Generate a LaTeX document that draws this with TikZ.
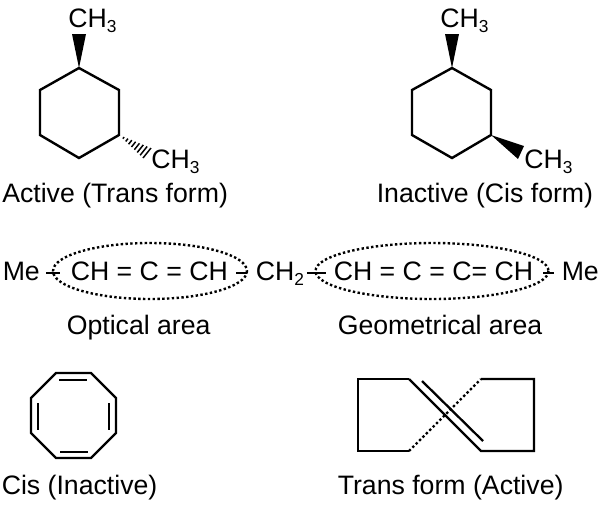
\documentclass[tikz,border=0pt]{standalone}
\usepackage{fontspec}
\setmainfont{Liberation Sans}
\usetikzlibrary{calc}
\newcommand{\subnum}[1]{\raisebox{-4.2pt}{\fontsize{13}{13}\selectfont #1}}
\tikzset{
  lbl/.style={anchor=base west, inner sep=0pt, font=\fontsize{20}{24}\selectfont},
  grp/.style={lbl, text height=10.5pt, text depth=0pt},
  bond/.style={line width=1.8pt, line join=miter},
  inner bond/.style={line width=1.7pt},
  dot bond/.style={line width=1.8pt, dash pattern=on 1.8pt off 1.8pt},
  area/.style={line width=1.8pt, dash pattern=on 1.8pt off 1.8pt},
  single/.style={line width=1.5pt}
}
\begin{document}
\begin{tikzpicture}[x=0.75pt, y=-0.75pt]
    \useasboundingbox (0,0) rectangle (605,508);

    % Active ring
    \coordinate (a1) at (79,68);
    \coordinate (a2) at (119,90);
    \coordinate (a3) at (119,135);
    \coordinate (a4) at (79,158);
    \coordinate (a5) at (40,135);
    \coordinate (a6) at (40,90);
    \draw[bond] (a1) -- (a2) -- (a3) -- (a4) -- (a5) -- (a6) -- cycle;
    \fill (a1) -- (72,34) -- (86,34) -- cycle; % Wedge up
    \coordinate (hashL) at (143,158);
    \coordinate (hashR) at (151,148);
    \foreach \t in {0.16,0.28,0.40,0.52,0.64,0.76,0.88,1} % Hashed wedge
        \draw[line width=1.1pt] ($(a3)!\t!(hashL)$) -- ($(a3)!\t!(hashR)$);
    \node[lbl] (CHa) at (68,27) {CH\subnum{3}};
    \node[lbl] (CHb) at (151,168) {CH\subnum{3}};
    \node[lbl] (active) at (2,202) {Active (Trans form)};

    % Inactive ring
    \coordinate (b1) at (452,68);
    \coordinate (b2) at (491,90);
    \coordinate (b3) at (491,135);
    \coordinate (b4) at (452,158);
    \coordinate (b5) at (412,135);
    \coordinate (b6) at (412,90);
    \draw[bond] (b1) -- (b2) -- (b3) -- (b4) -- (b5) -- (b6) -- cycle;
    \fill (b1) -- (445,34) -- (459,34) -- cycle;
    \fill (b3) -- (518,159) -- (524,146) -- cycle;
    \node[lbl] (CHc) at (440,27) {CH\subnum{3}};
    \node[lbl] (CHd) at (524,168) {CH\subnum{3}};
    \node[lbl] (inactive) at (376.5,202) {Inactive (Cis form)};

    % Chain
    \node[grp] (Me1) at (2.5,280) {Me};
    \node[grp] (opt) at (70.5,280) {CH = C = CH};
    \node[grp] (CH2) at (255.5,280) {CH\subnum{2}};
    \node[grp] (geo) at (333.5,280) {CH = C = C= CH};
    \node[grp] (Me2) at (561.5,280) {Me};
    \draw[single, shorten <=4.5pt, shorten >=8pt] (Me1.east) -- (opt.west);
    \draw[single, shorten <=6pt, shorten >=6.5pt] (opt.east) -- (CH2.west);
    \draw[single, shorten <=2pt, shorten >=6pt] (CH2.east) -- (geo.west);
    \draw[single, shorten <=7.5pt, shorten >=6pt] (geo.east) -- (Me2.west);
    \draw[area] (150,271) ellipse [x radius=97, y radius=28];
    \draw[area] (432,271) ellipse [x radius=116.5, y radius=28];
    \node[lbl] (optical) at (66.5,334) {Optical area};
    \node[lbl] (geometrical) at (337.5,334) {Geometrical area};

    % Cis octagon
    \draw[bond] (56,373) -- (91,373) -- (116,398) -- (116,433) -- (91,458)
        -- (56,458) -- (31,433) -- (31,398) -- cycle;
    \draw[inner bond] (59,380) -- (87,380);
    \draw[inner bond] (60,452) -- (88,452);
    \draw[inner bond] (38,403) -- (38,430);
    \draw[inner bond] (109,403) -- (109,430);
    \node[lbl] (cis) at (1.5,494) {Cis (Inactive)};

    % Trans ring
    \coordinate (t1) at (409,379);
    \coordinate (t2) at (409,451);
    \coordinate (t3) at (481,379);
    \coordinate (t4) at (481,451);
    \draw[bond] (t1) -- (358,379) -- (358,451) -- (t2);
    \draw[bond] (t3) -- (534,379) -- (534,451) -- (t4) -- (t1);
    \draw[dot bond] (t2) -- (t3);
    \draw[inner bond] (422,381) -- (483,441);
    \node[lbl] (trans) at (337.5,494) {Trans form (Active)};
\end{tikzpicture}
\end{document}
